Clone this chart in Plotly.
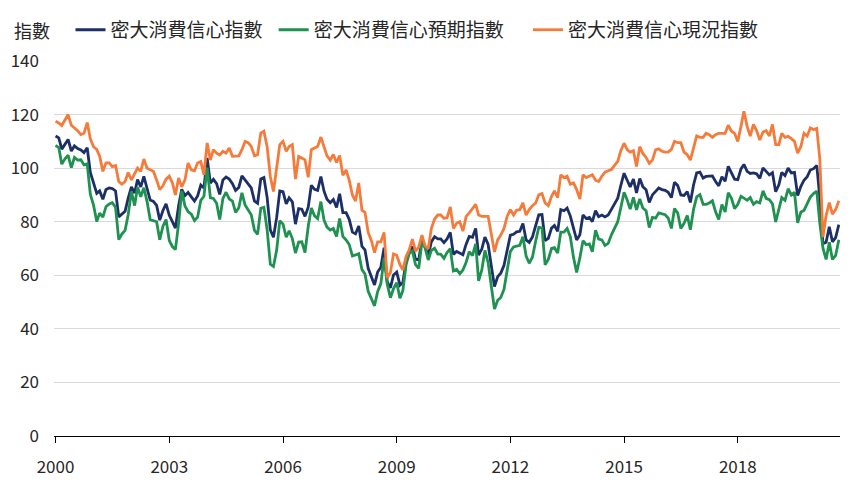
import pandas as pd
import plotly.graph_objects as go

dates = pd.date_range("2000-01-01", periods=249, freq="MS")

sentiment = [
    112.0, 111.3, 107.1, 109.2, 110.7, 106.4, 108.3, 107.3, 106.8, 105.8, 107.6, 98.4,
    94.7, 90.6, 91.5, 88.4, 92.0, 92.6, 92.4, 91.5, 81.8, 82.7, 83.9, 88.8,
    93.0, 90.7, 95.7, 93.0, 96.9, 92.4, 88.1, 87.6, 86.1, 80.6, 84.2, 86.7,
    82.4, 79.9, 77.6, 86.0, 92.1, 89.7, 90.9, 89.3, 87.7, 89.6, 93.7, 92.6,
    103.8, 94.4, 95.8, 94.2, 90.2, 95.6, 96.7, 95.9, 94.2, 91.7, 92.8, 97.1,
    95.5, 94.1, 92.6, 87.7, 86.9, 96.0, 96.5, 89.1, 76.9, 74.2, 81.6, 91.5,
    91.2, 86.7, 88.9, 87.4, 79.1, 84.9, 84.7, 82.0, 85.4, 93.6, 92.1, 91.7,
    96.9, 91.3, 88.4, 87.1, 88.3, 85.3, 90.4, 83.4, 83.4, 80.9, 76.1, 75.5,
    78.4, 70.8, 69.5, 62.6, 59.8, 56.4, 61.2, 63.0, 70.3, 57.6, 55.3, 60.1,
    61.2, 56.3, 57.3, 65.1, 68.7, 70.8, 66.0, 65.7, 73.5, 70.6, 67.4, 72.5,
    74.4, 73.6, 73.6, 72.2, 73.6, 76.0, 67.8, 68.9, 68.2, 67.7, 71.6, 74.5,
    74.2, 77.5, 67.5, 69.8, 74.3, 71.5, 63.7, 55.8, 59.5, 60.8, 63.7, 69.9,
    75.0, 75.3, 76.2, 76.4, 79.3, 73.2, 72.3, 74.3, 78.3, 82.6, 82.7, 72.9,
    73.8, 77.6, 78.6, 76.4, 84.5, 84.1, 85.1, 82.1, 77.5, 73.2, 75.1, 82.5,
    81.2, 81.6, 80.0, 84.1, 81.9, 82.5, 81.8, 82.5, 84.6, 86.9, 88.8, 93.6,
    98.1, 95.4, 93.0, 95.9, 90.7, 96.1, 93.1, 91.9, 87.2, 90.0, 91.3, 92.6,
    92.0, 91.7, 91.0, 89.0, 94.7, 93.5, 90.0, 89.8, 91.2, 87.2, 93.8, 98.2,
    98.5, 96.3, 96.9, 97.0, 97.1, 95.0, 93.4, 96.8, 95.1, 100.7, 98.5, 95.9,
    95.7, 99.7, 101.4, 98.8, 98.0, 98.2, 97.9, 96.2, 100.1, 98.6, 97.5, 98.3,
    91.2, 93.8, 98.4, 97.2, 100.0, 98.2, 98.4, 89.8, 93.2, 95.5, 96.8, 99.3,
    99.8, 101.0, 89.1, 71.8, 72.3, 78.1, 72.5, 74.1, 78.9,
]

expectations = [
    108.5, 107.7, 101.5, 103.5, 104.8, 100.2, 104.0, 103.0, 103.1, 101.2, 101.6, 90.3,
    86.2, 80.1, 83.2, 81.7, 85.6, 86.6, 87.1, 85.4, 73.3, 75.4, 76.8, 82.6,
    91.3, 86.0, 92.9, 89.3, 92.7, 87.5, 80.8, 80.4, 80.0, 73.3, 78.3, 80.8,
    73.0, 70.6, 69.6, 79.4, 91.5, 85.9, 83.8, 82.8, 80.4, 81.7, 88.0, 89.5,
    100.2, 88.9, 88.7, 86.9, 80.8, 88.7, 91.0, 88.5, 87.7, 83.5, 85.2, 90.8,
    86.2, 84.3, 82.6, 76.8, 75.3, 85.0, 85.4, 77.0, 64.1, 63.3, 69.4, 80.4,
    79.1, 74.2, 76.6, 73.7, 68.3, 72.4, 72.5, 68.5, 78.2, 85.1, 82.2, 81.2,
    87.5, 80.5, 78.0, 76.9, 77.5, 74.5, 81.2, 74.5, 73.2, 71.5, 67.2, 67.6,
    68.1, 62.1, 60.5, 54.0, 51.3, 48.6, 53.9, 56.9, 66.6, 56.7, 51.6, 55.0,
    57.2, 51.4, 54.3, 63.9, 68.2, 69.1, 64.0, 62.6, 72.5, 70.3, 65.7, 69.3,
    70.1, 67.9, 67.9, 66.3, 68.5, 69.9, 61.6, 62.2, 60.6, 62.0, 64.9, 68.8,
    67.3, 71.7, 57.9, 62.0, 69.3, 64.7, 56.1, 47.4, 50.7, 51.7, 54.8, 62.1,
    68.9, 70.6, 71.0, 71.2, 74.4, 67.2, 64.5, 66.8, 72.7, 77.9, 77.7, 63.9,
    65.9, 70.0, 70.3, 68.3, 76.1, 76.1, 77.5, 74.4, 66.6, 61.1, 66.5, 72.9,
    71.4, 71.7, 68.8, 76.8, 73.5, 73.2, 71.1, 71.9, 75.1, 77.8, 80.0, 85.3,
    91.0, 88.0, 84.7, 89.1, 84.4, 88.5, 85.1, 84.1, 77.8, 81.6, 81.3, 83.3,
    82.8, 82.6, 81.4, 77.5, 84.9, 83.2, 77.5, 79.4, 82.3, 77.0, 84.7, 89.3,
    90.1, 86.5, 86.5, 87.0, 87.8, 83.7, 80.8, 86.4, 83.6, 90.8, 88.7, 84.9,
    86.5, 89.5, 88.8, 88.0, 89.0, 86.5, 87.5, 87.0, 91.5, 88.7, 88.2, 86.7,
    79.9, 84.2, 89.0, 88.0, 92.3, 90.0, 91.0, 79.6, 83.6, 84.2, 87.0, 89.2,
    90.5, 91.4, 79.7, 70.1, 65.9, 72.3, 65.9, 67.4, 73.3,
]

current = [
    117.5, 116.9, 115.9, 118.0, 120.0, 116.0, 115.0, 114.0, 112.5, 113.0, 117.0, 111.0,
    108.0, 107.0, 104.5, 98.8, 102.0, 102.0, 100.6, 101.0, 95.0, 94.0, 95.0, 98.4,
    95.6, 98.0, 100.0, 98.8, 103.4, 100.0, 99.4, 98.8, 95.6, 92.0, 93.4, 95.9,
    97.0, 94.4, 90.0, 96.3, 93.0, 95.6, 101.9, 99.4, 99.0, 101.9, 102.5, 97.5,
    109.4, 103.0, 106.9, 105.6, 104.9, 106.3, 105.6, 107.5, 104.4, 104.4, 104.6, 106.9,
    110.0, 109.4, 108.1, 104.6, 105.0, 113.1, 113.8, 108.0, 96.9, 91.3, 100.6, 108.8,
    110.0, 106.3, 108.1, 108.8, 95.9, 104.4, 103.8, 103.1, 96.6, 106.9, 107.5, 108.1,
    111.6, 108.1, 104.6, 103.0, 105.1, 102.1, 104.7, 97.3, 99.3, 95.5, 90.0, 87.7,
    94.5, 84.3, 83.5, 76.0, 73.0, 68.5, 72.5, 72.5, 76.0, 59.0, 61.0, 68.0,
    67.5, 64.0, 62.0, 67.0, 69.5, 73.5, 69.0, 70.5, 75.0, 71.0, 70.0, 77.5,
    81.0, 82.5, 82.5, 81.3, 81.5, 85.5, 77.5, 79.4, 80.0, 76.5, 82.0, 83.3,
    85.0, 86.5, 82.5, 82.0, 82.0, 82.0, 75.5, 68.7, 73.2, 75.0, 77.5, 82.0,
    84.5, 82.5, 84.3, 84.5, 87.0, 82.5, 84.5, 86.0, 87.0, 90.0, 90.5, 87.0,
    86.0, 89.5, 91.5, 89.0, 97.5, 96.5, 97.0, 94.0, 94.5, 92.0, 88.5, 97.5,
    96.5, 97.0, 97.5, 95.5, 95.0, 97.0, 98.5, 99.0, 99.5, 101.0, 102.5, 106.5,
    109.3, 106.8, 106.0, 106.5, 100.6, 108.0, 105.5, 104.0, 101.8, 103.0, 106.8, 107.2,
    106.3, 106.0, 106.0, 107.0, 110.0, 109.5, 109.5, 106.0, 105.0, 103.0, 108.0, 112.0,
    111.5, 111.5, 113.0, 112.5, 111.5, 112.5, 113.0, 113.0, 113.0, 116.0, 113.8, 113.0,
    110.0, 115.6, 121.2, 115.6, 112.0, 116.3, 114.0, 110.5, 113.5, 114.0, 112.0, 116.3,
    108.8, 108.8, 113.0, 111.5, 111.9, 111.0, 110.0, 105.6, 108.1, 113.0, 112.0, 115.0,
    114.4, 114.8, 103.7, 74.3, 82.3, 87.1, 82.8, 84.5, 87.8,
]

names = ["密大消費信心指數", "密大消費信心預期指數", "密大消費信心現況指數"]
colors = ["#1c2f66", "#1f9150", "#f57b3b"]
tick_years = ["2000", "2003", "2006", "2009", "2012", "2015", "2018"]
y_title = "指數"

FONT = "Noto Sans CJK TC"
TXT = "#262626"

legend_ids = ["legend", "legend2", "legend3"]
legend_x = [0.021, 0.2795, 0.603]

fig = go.Figure()
for name, vals, col, lg in zip(names, [sentiment, expectations, current], colors, legend_ids):
    fig.add_trace(go.Scatter(
        x=dates, y=vals, name=name, mode="lines",
        line=dict(color=col, width=2.8), legend=lg,
    ))

legend_style = dict(
    orientation="h", xanchor="left", y=1.083, yanchor="middle",
    font=dict(family=FONT, size=19, color=TXT),
    itemwidth=30, bgcolor="rgba(0,0,0,0)",
)

fig.update_layout(
    width=841, height=487,
    margin=dict(l=46, r=9, t=53, b=59, autoexpand=False),
    paper_bgcolor="white", plot_bgcolor="white",
    font=dict(family=FONT, size=17, color=TXT),
    showlegend=True,
    legend=dict(x=legend_x[0], **legend_style),
    legend2=dict(x=legend_x[1], **legend_style),
    legend3=dict(x=legend_x[2], **legend_style),
    xaxis=dict(
        type="date", automargin=False,
        range=["1999-12-17", "2020-09-12"],
        tickvals=[pd.Timestamp(y + "-01-01") for y in tick_years],
        ticktext=tick_years,
        showgrid=False, zeroline=False,
        showline=True, linecolor="black", linewidth=1,
        ticks="outside", ticklen=6, tickcolor="black", tickwidth=1,
        ticklabelstandoff=10,
        tickfont=dict(family=FONT, size=17, color=TXT),
    ),
    yaxis=dict(
        range=[0, 140], dtick=20, tick0=0, automargin=False,
        showgrid=True, gridcolor="#d9d9d9", gridwidth=1,
        zeroline=False, showline=False,
        ticks="", ticklabelstandoff=14,
        tickfont=dict(family=FONT, size=17, color=TXT),
    ),
    annotations=[dict(
        text=y_title, xref="paper", yref="paper",
        x=-0.0534, y=1.083, xanchor="left", yanchor="middle",
        showarrow=False, font=dict(family=FONT, size=18, color=TXT),
    )],
)

fig.write_html("out.html")
